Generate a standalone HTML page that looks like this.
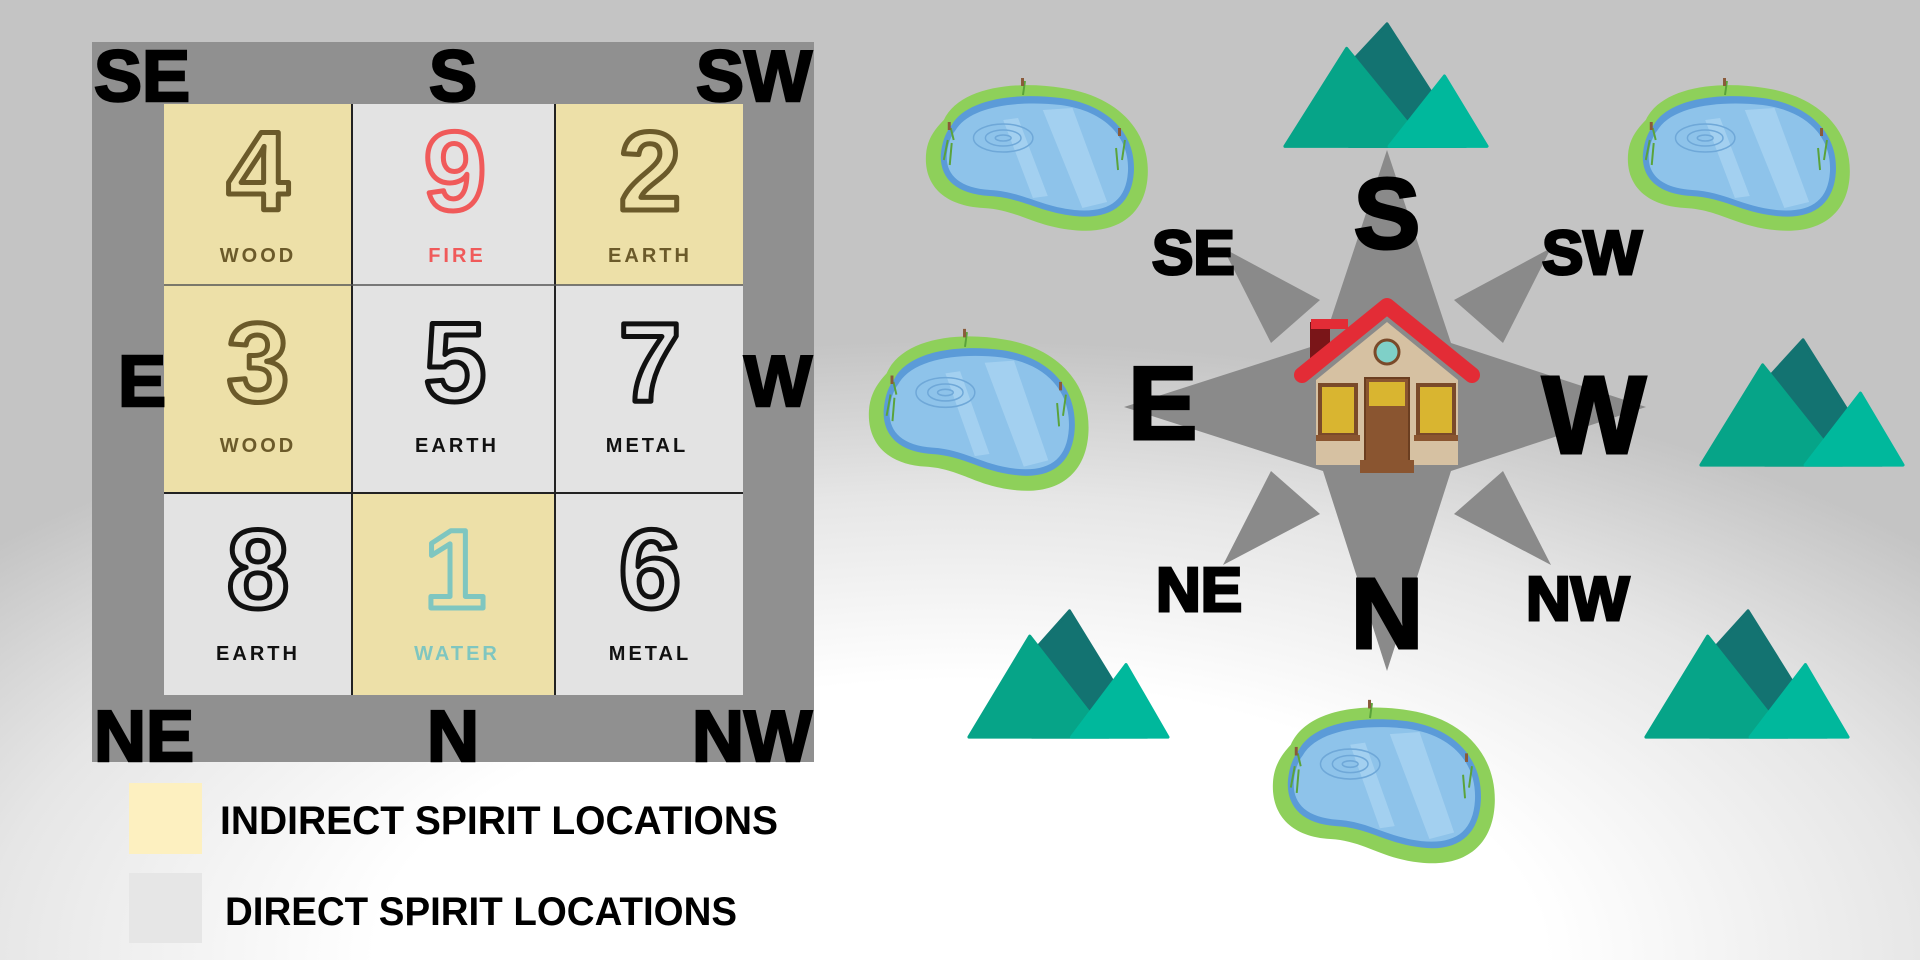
<!DOCTYPE html>
<html><head><meta charset="utf-8"><style>
html,body{margin:0;padding:0;width:1920px;height:960px;overflow:hidden}
body{background:radial-gradient(ellipse 1300px 620px at 960px 960px,#ffffff 0%,#ffffff 45%,#e6e6e6 75%,#c4c4c4 100%);}
svg{position:absolute;left:0;top:0}
text{font-family:"Liberation Sans",sans-serif;font-weight:bold}
</style></head><body>
<svg width="1920" height="960" viewBox="0 0 1920 960">
<defs>
<g id="pond">
<path d="M20,40 C35,8 90,0 140,8 C195,16 228,50 226,95 C224,135 195,155 150,150 C110,146 95,130 60,128 C20,126 0,105 2,75 C3,60 10,50 20,40Z" fill="#8ed05a"/>
<path d="M28,45 C42,20 90,12 138,18 C188,25 214,55 212,92 C210,125 188,140 152,136 C115,132 100,118 66,116 C32,114 16,98 17,75 C18,62 22,52 28,45Z" fill="#5b9bd8"/>
<path d="M32,50 C46,27 92,20 138,25 C184,31 208,58 206,92 C204,122 185,133 152,130 C116,126 100,112 67,110 C36,108 22,95 23,75 C24,64 27,56 32,50Z" fill="#8ec3ea"/>
<path d="M120,30 L160,128 L185,122 L150,28Z M80,40 L110,118 L125,116 L95,38Z" fill="#a9d3f1" opacity=".8"/>
<ellipse cx="80" cy="58" rx="30" ry="14" fill="none" stroke="#6fa8d8" stroke-width="1.5"/>
<ellipse cx="80" cy="58" rx="18" ry="8" fill="none" stroke="#6fa8d8" stroke-width="1.5"/>
<ellipse cx="80" cy="58" rx="8" ry="3" fill="none" stroke="#6fa8d8" stroke-width="1.5"/>
<path d="M20,80 l4,-20 M26,85 l2,-22 M200,80 l3,-20 M196,90 l-2,-22 M100,15 l2,-14 M30,60 l-3,-12" stroke="#5aa33a" stroke-width="2"/>
<rect x="98" y="-2" width="3" height="8" fill="#8a5a3a"/><rect x="196" y="48" width="3" height="8" fill="#8a5a3a"/><rect x="24" y="42" width="3" height="8" fill="#8a5a3a"/>
</g>
<g id="mtn" stroke-linejoin="round">
<polygon points="40,60 96,0 170,115 60,115" fill="#137371" stroke="#137371" stroke-width="3"/>
<polygon points="0,115 58,23 133,115" fill="#06a488" stroke="#06a488" stroke-width="3"/>
<polygon points="98,115 150,49 190,115" fill="#00b89c" stroke="#00b89c" stroke-width="3"/>
</g>
</defs>

<!-- left panel -->
<rect x="92" y="42" width="722" height="720" fill="#909090"/>
<rect x="164" y="104" width="188" height="181" fill="#ede0a8"/>
<rect x="352" y="104" width="203" height="181" fill="#e3e3e3"/>
<rect x="555" y="104" width="188" height="181" fill="#ede0a8"/>
<rect x="164" y="285" width="188" height="208" fill="#ede0a8"/>
<rect x="352" y="285" width="203" height="208" fill="#e3e3e3"/>
<rect x="555" y="285" width="188" height="208" fill="#e3e3e3"/>
<rect x="164" y="493" width="188" height="202" fill="#e3e3e3"/>
<rect x="352" y="493" width="203" height="202" fill="#ede0a8"/>
<rect x="555" y="493" width="188" height="202" fill="#e3e3e3"/>
<g stroke="#222" stroke-width="2"><line x1="352" y1="104" x2="352" y2="695"/><line x1="555" y1="104" x2="555" y2="695"/><line x1="164" y1="285" x2="743" y2="285" stroke="#555" stroke-width="1.5"/><line x1="164" y1="493" x2="743" y2="493"/></g>
<g font-size="112" text-anchor="middle" fill="none" stroke-width="5" stroke-linejoin="round">
<text x="258" y="210" stroke="#6b5a2a">4</text>
<text x="455" y="210" stroke="#f05a5a">9</text>
<text x="650" y="210" stroke="#6b5a2a">2</text>
<text x="258" y="401" stroke="#6b5a2a">3</text>
<text x="455" y="401" stroke="#111">5</text>
<text x="650" y="401" stroke="#111">7</text>
<text x="258" y="608" stroke="#111">8</text>
<text x="455" y="608" stroke="#7fc6c0">1</text>
<text x="650" y="608" stroke="#111">6</text>
</g>
<g font-size="20" text-anchor="middle" letter-spacing="3">
<text x="258" y="262" fill="#6b5a2a">WOOD</text>
<text x="457" y="262" fill="#f05a5a">FIRE</text>
<text x="650" y="262" fill="#6b5a2a">EARTH</text>
<text x="258" y="452" fill="#6b5a2a">WOOD</text>
<text x="457" y="452" fill="#111">EARTH</text>
<text x="647" y="452" fill="#111">METAL</text>
<text x="258" y="660" fill="#111">EARTH</text>
<text x="457" y="660" fill="#7fc6c0">WATER</text>
<text x="650" y="660" fill="#111">METAL</text>
</g>
<g font-size="72" fill="#000" stroke="#000" stroke-width="2.5">
<text x="94" y="101">SE</text>
<text x="453" y="101" text-anchor="middle">S</text>
<text x="812" y="101" text-anchor="end">SW</text>
<text x="118" y="406">E</text>
<text x="812" y="406" text-anchor="end">W</text>
<text x="94" y="761">NE</text>
<text x="453" y="761" text-anchor="middle">N</text>
<text x="812" y="761" text-anchor="end">NW</text>
</g>
<rect x="129" y="783" width="73" height="71" fill="#fdf0c0"/>
<rect x="129" y="873" width="73" height="70" fill="#e6e6e6"/>
<text x="220" y="834" font-size="40" fill="#000" textLength="558" lengthAdjust="spacingAndGlyphs">INDIRECT SPIRIT LOCATIONS</text>
<text x="225" y="925" font-size="40" fill="#000" textLength="512" lengthAdjust="spacingAndGlyphs">DIRECT SPIRIT LOCATIONS</text>

<!-- compass -->
<g fill="#8a8a8a">
<polygon points="1387,150 1451,343 1646,407 1451,471 1387,671 1323,471 1124,407 1323,343"/>
<polygon points="1223,248 1320,300 1271,343"/>
<polygon points="1551,248 1454,300 1503,343"/>
<polygon points="1223,565 1320,514 1271,471"/>
<polygon points="1551,565 1454,514 1503,471"/>
</g>
<!-- house -->
<g>
<rect x="1310" y="322" width="20" height="40" fill="#7a1518"/>
<rect x="1311" y="319" width="37" height="10" fill="#e32c36"/>
<polygon points="1316,380 1387,322 1458,380 1458,465 1316,465" fill="#d6c1a2"/>
<path d="M1302,375 L1387,306 L1472,375" fill="none" stroke="#e32c36" stroke-width="16" stroke-linejoin="round" stroke-linecap="round"/>
<circle cx="1387" cy="352" r="12" fill="#7fd0c8" stroke="#7a4a2a" stroke-width="3"/>
<rect x="1365" y="378" width="44" height="85" fill="#8a5530" stroke="#6b3e20" stroke-width="2"/>
<rect x="1369" y="382" width="36" height="24" fill="#d9b530"/>
<rect x="1320" y="385" width="36" height="50" fill="#d9b530" stroke="#7a4a2a" stroke-width="4"/>
<rect x="1418" y="385" width="36" height="50" fill="#d9b530" stroke="#7a4a2a" stroke-width="4"/>
<rect x="1316" y="435" width="44" height="6" fill="#8a5530"/>
<rect x="1414" y="435" width="44" height="6" fill="#8a5530"/>
<rect x="1360" y="460" width="54" height="13" fill="#8a5530"/>
</g>
<g fill="#000" stroke="#000" stroke-width="3">
<text x="1387" y="248" font-size="100" text-anchor="middle">S</text>
<text x="1387" y="648" font-size="100" text-anchor="middle">N</text>
<text x="1128" y="439" font-size="104">E</text>
<text x="1594" y="453" font-size="110" text-anchor="middle">W</text>
<text x="1152" y="274" font-size="62">SE</text>
<text x="1542" y="274" font-size="62">SW</text>
<text x="1156" y="611" font-size="62">NE</text>
<text x="1526" y="620" font-size="62">NW</text>
</g>
<!-- mountains -->
<use href="#mtn" transform="translate(1285,24) scale(1.063)"/>
<use href="#mtn" transform="translate(1701,340) scale(1.063,1.087)"/>
<use href="#mtn" transform="translate(969,611) scale(1.047,1.096)"/>
<use href="#mtn" transform="translate(1646,611) scale(1.063,1.096)"/>
<!-- ponds -->
<use href="#pond" transform="translate(924,80) scale(0.99,1.0)"/>
<use href="#pond" transform="translate(1626,80) scale(0.99,1.0)"/>
<use href="#pond" transform="translate(867,331) scale(0.98,1.06)"/>
<use href="#pond" transform="translate(1271,702) scale(0.99,1.07)"/>
</svg>
</body></html>
